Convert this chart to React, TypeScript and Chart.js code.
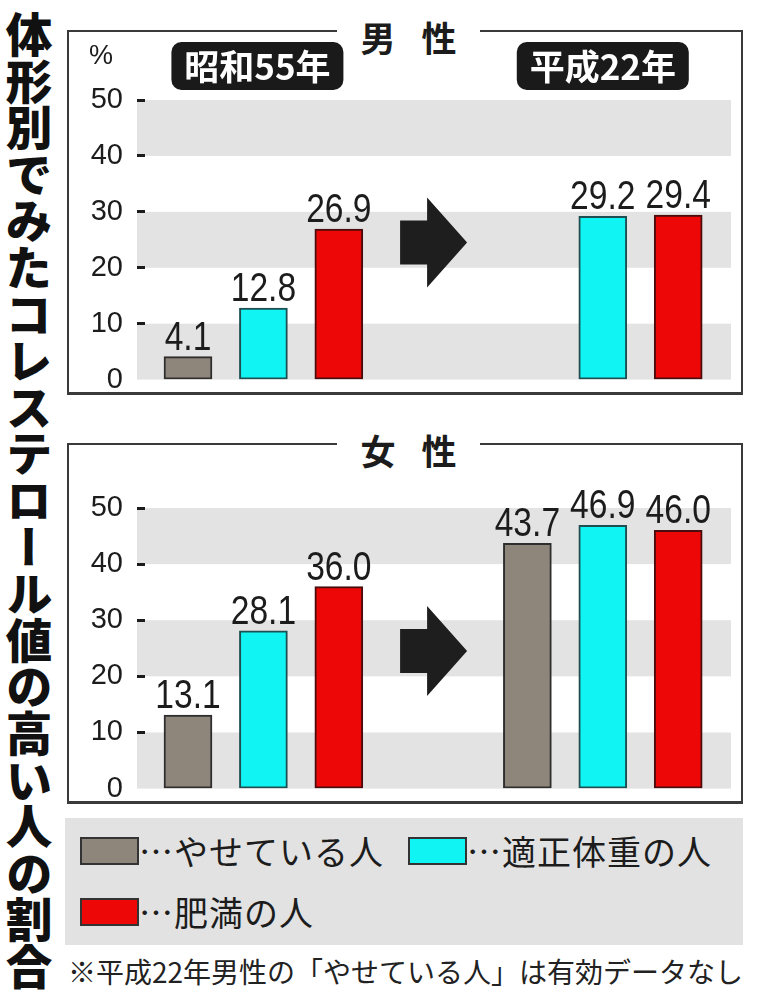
import { useEffect, useRef } from 'react';
import { Chart, registerables } from 'chart.js';

Chart.register(...registerables);

// data
const bodyTypes = ['やせている人', '適正体重の人', '肥満の人'];
const periods = ['昭和55年', '平成22年'];
const menThin = [4.1, null];
const menNormal = [12.8, 29.2];
const menObese = [26.9, 29.4];
const womenThin = [13.1, 43.7];
const womenNormal = [28.1, 46.9];
const womenObese = [36.0, 46.0];
const yTickValues = [0, 10, 20, 30, 40, 50];
const shadedRanges = [
  [0, 10],
  [20, 30],
  [40, 50],
];

const typeColors = ['#8f867b', '#10f4f4', '#ee0707'];
const typeEdges = ['#2e2e2e', '#1d4f52', '#4a0d0d'];
const INK = '#1c1c1c';
const FONT_NUM = '"Liberation Sans", "DejaVu Sans", sans-serif';
const FONT_JP = '"Noto Sans CJK JP", "Noto Sans", sans-serif';

// slot index on the x scale: each period holds three bars, the arrow sits between periods
const slotOf = (periodIndex: number, typeIndex: number) => periodIndex * 4.5 + typeIndex;

// the y axis reserves ~33px under the plot for the "0" label; the canvas runs past the frame to absorb it
const CANVAS_EXTRA = 16;

interface PanelProps {
  values: (number | null)[][];
  showPeriods: boolean;
  top: number;
  height: number;
  padTop: number;
}

function Panel({ values, showPeriods, top, height, padTop }: PanelProps): JSX.Element {
  const canvasRef = useRef<HTMLCanvasElement | null>(null);

  useEffect(() => {
    if (!canvasRef.current) return;
    const ctx = canvasRef.current.getContext('2d');
    if (!ctx) return;

    const bands = {
      id: 'bands',
      beforeDraw(chart: Chart) {
        const { ctx: c, chartArea } = chart;
        const y = chart.scales.y;
        c.save();
        c.fillStyle = '#e3e3e3';
        shadedRanges.forEach(([lo, hi]) => {
          const y1 = y.getPixelForValue(hi);
          const y2 = y.getPixelForValue(lo);
          c.fillRect(chartArea.left - 8, y1, chartArea.right - chartArea.left + 8, y2 - y1);
        });
        c.restore();
      },
    };

    const marks = {
      id: 'marks',
      afterDatasetsDraw(chart: Chart) {
        const { ctx: c } = chart;
        const xs = chart.scales.x;
        const ys = chart.scales.y;
        // value labels, narrowed like the condensed face of the original
        c.save();
        c.fillStyle = INK;
        c.font = `40px ${FONT_NUM}`;
        c.textAlign = 'center';
        c.textBaseline = 'alphabetic';
        chart.data.datasets.forEach((ds, di) => {
          const meta = chart.getDatasetMeta(di);
          meta.data.forEach((el, i) => {
            const v = (ds.data[i] as { y: number | null }).y;
            if (v === null || v === undefined) return;
            c.save();
            c.translate(el.x, el.y - 7);
            c.scale(0.84, 1);
            c.fillText(v.toFixed(1), 0, 0);
            c.restore();
          });
        });
        // arrow between periods
        const ax = xs.getPixelForValue(3.25);
        const ay = ys.getPixelForValue(24.5);
        c.fillStyle = '#1e1e1e';
        c.beginPath();
        c.moveTo(ax - 33, ay - 22);
        c.lineTo(ax - 6, ay - 22);
        c.lineTo(ax - 6, ay - 45);
        c.lineTo(ax + 34, ay);
        c.lineTo(ax - 6, ay + 45);
        c.lineTo(ax - 6, ay + 22);
        c.lineTo(ax - 33, ay + 22);
        c.closePath();
        c.fill();
        // period badges
        if (showPeriods) {
          periods.forEach((p, pi) => {
            const cx = xs.getPixelForValue(slotOf(pi, 1)) - (pi === 0 ? 6 : 0);
            const cy = chart.chartArea.top - 34;
            const w = 172;
            const h = 48;
            c.fillStyle = '#1a1a1a';
            c.beginPath();
            c.roundRect(cx - w / 2, cy - h / 2, w, h, 10);
            c.fill();
            c.fillStyle = '#ffffff';
            c.font = `bold 35px ${FONT_JP}`;
            c.textBaseline = 'middle';
            c.fillText(p, cx, cy + 1);
          });
        }
        c.restore();
      },
    };

    const chart = new Chart(ctx, {
      type: 'bar',
      data: {
        datasets: bodyTypes.map((label, t) => ({
          label,
          data: periods.map((_, p) => ({ x: slotOf(p, t), y: values[t][p] })),
          backgroundColor: typeColors[t],
          borderColor: typeEdges[t],
          borderWidth: 2,
          borderSkipped: false,
          grouped: false,
          maxBarThickness: 48,
          barPercentage: 1,
          categoryPercentage: 1,
        })),
      },
      options: {
        responsive: false,
        animation: false,
        layout: { padding: { top: padTop, bottom: 1, left: 0, right: 12 } },
        plugins: { legend: { display: false }, tooltip: { enabled: false } },
        scales: {
          x: { type: 'linear', min: -0.57, max: 7.2, offset: false, display: false },
          y: {
            min: 0,
            max: 50,
            afterFit: (scale) => {
              scale.width = 78;
            },
            afterBuildTicks: (scale) => {
              scale.ticks = yTickValues.map((value) => ({ value }));
            },
            ticks: {
              color: INK,
              padding: 14,
              font: { family: FONT_NUM, size: 29 },
            },
            grid: {
              drawOnChartArea: false,
              drawTicks: true,
              tickLength: 8,
              tickWidth: 3,
              tickColor: (c) => (c.tick && c.tick.value === 0 ? 'rgba(0,0,0,0)' : INK),
            },
            border: { display: false },
          },
        },
      },
      plugins: [bands, marks],
    });

    return () => {
      chart.destroy();
    };
  }, [values, showPeriods, padTop]);

  const h = height + CANVAS_EXTRA;
  return (
    <canvas
      ref={canvasRef}
      width={676}
      height={h}
      style={{ position: 'absolute', left: 67, top, width: 676, height: h }}
    />
  );
}

function PanelFrame({ top, height, title }: { top: number; height: number; title: string[] }): JSX.Element {
  return (
    <>
      <div
        style={{
          position: 'absolute',
          left: 67,
          top,
          width: 676,
          height,
          boxSizing: 'border-box',
          border: '2px solid #3a3a3a',
          borderBottomWidth: 3,
        }}
      />
      <div
        style={{
          position: 'absolute',
          left: 337,
          top: top - 11,
          width: 143,
          height: 36,
          background: '#fff',
          display: 'flex',
          justifyContent: 'center',
          gap: 26,
          fontFamily: FONT_JP,
          fontWeight: 700,
          fontSize: 35,
          lineHeight: '36px',
          color: INK,
        }}
      >
        {title.map((ch) => (
          <span key={ch}>{ch}</span>
        ))}
      </div>
    </>
  );
}

const menValues = [menThin, menNormal, menObese];
const womenValues = [womenThin, womenNormal, womenObese];
const legendSpots = [
  { left: 15, top: 19 },
  { left: 343, top: 19 },
  { left: 15, top: 80 },
];

export default function App(): JSX.Element {
  return (
    <div
      style={{
        position: 'absolute',
        left: 0,
        top: 0,
        width: 760,
        height: 997,
        background: '#fff',
        overflow: 'hidden',
        fontFamily: FONT_JP,
        color: INK,
      }}
    >
      <div
        style={{
          position: 'absolute',
          left: 5,
          top: 11,
          writingMode: 'vertical-rl',
          fontSize: 46.6,
          lineHeight: 1,
          fontWeight: 900,
          fontFamily: FONT_JP,
          color: '#111',
        }}
      >
        体形別でみたコレステロール値の高い人の割合
      </div>

      <PanelFrame top={30} height={365} title={['男', '性']} />
      <Panel values={menValues} showPeriods top={30} height={365} padTop={70} />
      <div style={{ position: 'absolute', left: 89, top: 40, fontSize: 27, fontFamily: FONT_NUM }}>%</div>

      <PanelFrame top={443} height={361} title={['女', '性']} />
      <Panel values={womenValues} showPeriods={false} top={443} height={361} padTop={65} />

      <div style={{ position: 'absolute', left: 65, top: 818, width: 678, height: 127, background: '#e2e2e2' }}>
        {bodyTypes.map((label, i) => (
          <div
            key={label}
            style={{
              position: 'absolute',
              left: legendSpots[i].left,
              top: legendSpots[i].top,
              height: 28,
              display: 'flex',
              alignItems: 'center',
              whiteSpace: 'nowrap',
            }}
          >
            <span
              style={{
                display: 'inline-block',
                width: 59,
                height: 28,
                boxSizing: 'border-box',
                border: '2px solid #333',
                background: typeColors[i],
              }}
            />
            <span style={{ fontSize: 34, lineHeight: 1, letterSpacing: 1 }}>…{label}</span>
          </div>
        ))}
      </div>

      <div
        style={{
          position: 'absolute',
          left: 68,
          top: 953,
          fontSize: 28,
          lineHeight: '36px',
          whiteSpace: 'nowrap',
          color: '#222',
        }}
      >
        ※平成22年男性の「やせている人」は有効データなし
      </div>
    </div>
  );
}
